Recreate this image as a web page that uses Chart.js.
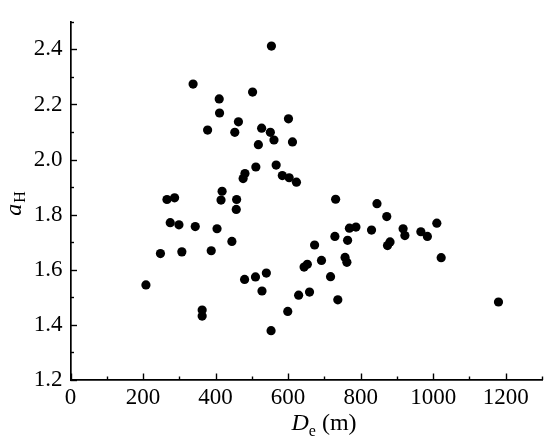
<!DOCTYPE html>
<html>
<head>
<meta charset="utf-8">
<script src="https://cdn.jsdelivr.net/npm/chart.js@4"></script>
<style>
html,body{margin:0;padding:0;background:#fff;}
#wrap{width:550px;height:445px;position:relative;}
</style>
</head>
<body>
<div id="wrap"><canvas id="c" width="550" height="445"></canvas></div>
<script>
// Effective distance D_e (m)
const De = [554, 338, 502, 410, 411, 463, 601, 378, 453, 527, 551, 561, 518, 612, 567, 511, 481, 476, 584, 603, 623, 418, 266, 287, 415, 458, 457, 275, 299, 344, 404, 445, 248, 307, 388, 208, 480, 510, 540, 528, 363, 363, 553, 599, 629, 644, 653, 659, 731, 845, 872, 1010, 769, 787, 830, 917, 922, 966, 984, 729, 764, 673, 874, 881, 757, 762, 692, 1022, 717, 737, 1180];
// a_H values
const aH = [2.412, 2.274, 2.245, 2.220, 2.169, 2.137, 2.148, 2.107, 2.099, 2.114, 2.099, 2.071, 2.054, 2.064, 1.980, 1.973, 1.949, 1.931, 1.942, 1.934, 1.918, 1.885, 1.855, 1.861, 1.853, 1.855, 1.819, 1.771, 1.763, 1.757, 1.749, 1.703, 1.659, 1.665, 1.669, 1.545, 1.565, 1.574, 1.588, 1.523, 1.454, 1.432, 1.379, 1.449, 1.508, 1.610, 1.620, 1.519, 1.856, 1.840, 1.793, 1.769, 1.751, 1.755, 1.744, 1.749, 1.724, 1.738, 1.721, 1.721, 1.707, 1.690, 1.688, 1.701, 1.645, 1.627, 1.634, 1.644, 1.575, 1.491, 1.483];
// Axis tick settings
const xRange = [0, 1300];
const xMajorStep = 200;
const xMinorStep = 100;
const yRange = [1.2, 2.5];
const yMajorStep = 0.2;
const yMinorStep = 0.1;

const points = De.map((x, i) => ({x: x, y: aH[i]}));
const SERIF = "'Liberation Serif'";

const decor = {
  id: 'decor',
  afterDraw(chart) {
    const ctx = chart.ctx;
    const xs = chart.scales.x, ys = chart.scales.y;
    const area = chart.chartArea;
    ctx.save();
    ctx.strokeStyle = '#000';
    ctx.lineWidth = 1.4;
    const nx = Math.round((xRange[1] - xRange[0]) / xMinorStep);
    for (let i = 0; i <= nx; i++) {
      const v = xRange[0] + i * xMinorStep;
      const px = Math.round(xs.getPixelForValue(v)) + 0.5;
      const major = Math.abs((v / xMajorStep) - Math.round(v / xMajorStep)) < 1e-6;
      const len = major ? 6.5 : 3.5;
      ctx.beginPath();
      ctx.moveTo(px, area.bottom);
      ctx.lineTo(px, area.bottom - len);
      ctx.stroke();
    }
    const ny = Math.round((yRange[1] - yRange[0]) / yMinorStep);
    for (let i = 0; i <= ny; i++) {
      const v = yRange[0] + i * yMinorStep;
      const py = Math.round(ys.getPixelForValue(v)) + 0.5;
      const r = (v - yRange[0]) / yMajorStep;
      const major = Math.abs(r - Math.round(r)) < 1e-6;
      const len = major ? 6.5 : 3.5;
      ctx.beginPath();
      ctx.moveTo(area.left, py);
      ctx.lineTo(area.left + len, py);
      ctx.stroke();
    }
    ctx.fillStyle = '#000';
    ctx.textBaseline = 'alphabetic';
    ctx.textAlign = 'left';
    const big = '24px ' + SERIF, bigI = 'italic 24px ' + SERIF, sub = '16px ' + SERIF;
    ctx.font = bigI; const wD = ctx.measureText('D').width;
    ctx.font = sub; const we = ctx.measureText('e').width;
    ctx.font = big; const wm = ctx.measureText(' (m)').width;
    const total = wD + we + wm;
    let x0 = 324 - total / 2;
    const by = 430;
    ctx.font = bigI; ctx.fillText('D', x0, by);
    ctx.font = sub; ctx.fillText('e', x0 + wD, by + 6);
    ctx.font = big; ctx.fillText(' (m)', x0 + wD + we, by);
    ctx.save();
    ctx.translate(21, 204);
    ctx.rotate(-Math.PI / 2);
    ctx.font = bigI; const wa = ctx.measureText('a').width;
    ctx.font = sub; const wH = ctx.measureText('H').width;
    const t = wa + wH;
    ctx.font = bigI; ctx.fillText('a', -t / 2, 0);
    ctx.font = sub; ctx.fillText('H', -t / 2 + wa + 1, 4);
    ctx.restore();
    ctx.restore();
  }
};

function draw() {
  new Chart(document.getElementById('c'), {
    type: 'scatter',
    data: {
      datasets: [{
        data: points,
        backgroundColor: '#000',
        borderColor: '#000',
        borderWidth: 0,
        pointRadius: 4.6,
        pointHoverRadius: 4.6
      }]
    },
    options: {
      responsive: false,
      animation: false,
      events: [],
      layout: { padding: { left: 0, right: 8, top: 8, bottom: 0 } },
      plugins: { legend: { display: false }, tooltip: { enabled: false } },
      scales: {
        x: {
          type: 'linear',
          min: xRange[0], max: xRange[1],
          grid: { display: false, drawTicks: false },
          border: { display: true, color: '#000', width: 1.7 },
          ticks: {
            stepSize: xMajorStep, includeBounds: false, maxRotation: 0, autoSkip: false,
            color: '#000', padding: 4,
            font: { family: SERIF, size: 23 },
            callback: v => String(v)
          },
          afterFit(s) { s.height = 65; }
        },
        y: {
          type: 'linear',
          min: yRange[0], max: yRange[1],
          grid: { display: false, drawTicks: false },
          border: { display: true, color: '#000', width: 1.7 },
          ticks: {
            stepSize: yMajorStep, includeBounds: false, autoSkip: false,
            color: '#000', padding: 8,
            font: { family: SERIF, size: 23 },
            callback: v => Number(v).toFixed(1)
          },
          afterFit(s) { s.width = 70.5; }
        }
      }
    }
  ,
    plugins: [decor]
  });
}
if (document.fonts && document.fonts.load) {
  Promise.all([
    document.fonts.load("23px 'Liberation Serif'"),
    document.fonts.load("italic 24px 'Liberation Serif'")
  ]).then(draw, draw);
} else { draw(); }
</script>
</body>
</html>
